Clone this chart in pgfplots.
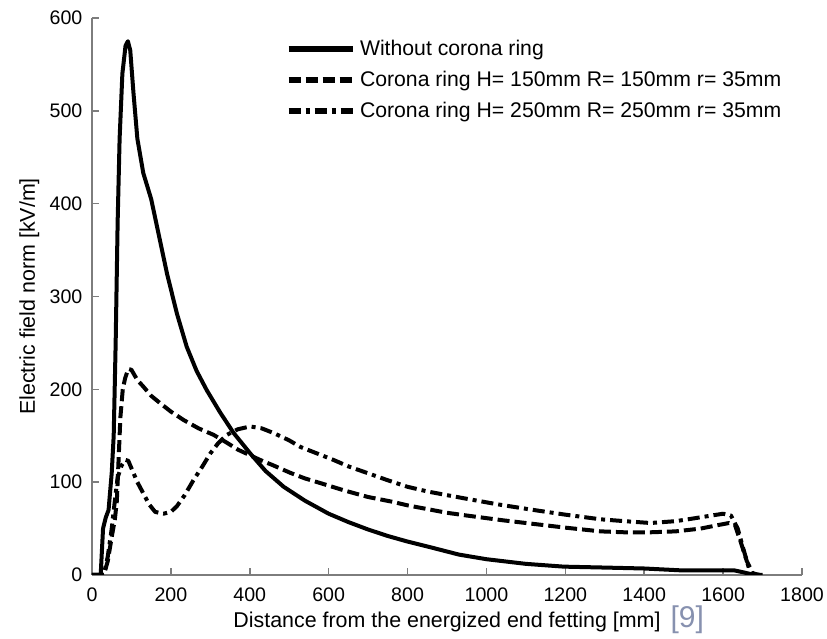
\documentclass[border=0pt]{standalone}
\usepackage{pgfplots}
\usepackage{pgfplotstable}
\pgfplotsset{compat=1.18}
\usepackage{fontspec}
\setmainfont{Liberation Sans}
\definecolor{axgray}{RGB}{125,125,125}
\definecolor{citeblue}{RGB}{135,145,175}

\pgfplotstableread{
x y
0 0
22 0
28 50
35 62
42 70
50 110
55 150
60 250
65 380
70 470
77 540
85 570
91 575
97 565
105 520
115 470
130 433
150 405
170 365
190 325
215 282
240 246
265 220
291 199
325 175
359 153
401 131
440 112
486 95
540 80
600 66
650 57
700 49
750 42
800 36
866 29
930 22
1000 17
1100 12
1196 9
1300 8
1400 7
1493 5
1560 5
1628 5
1650 3
1670 1
1700 0
}\solid

\pgfplotstableread{
x y
0 0
30 0
40 15
50 41
58 60
63 80
68 130
72 170
78 200
84 212
92 222
100 221
115 210
130 203
150 193
173 185
200 176
232 167
270 158
308 151
340 143
370 135
426 124
460 118
503 110
540 104
579 99
640 91
700 84
760 79
800 75
850 71
900 67
951 64
1040 59
1120 55
1200 51
1289 47
1350 46
1416 46
1480 47
1543 50
1590 54
1615 56
1630 54
1645 35
1660 15
1675 2
1690 0
}\ringA

\pgfplotstableread{
x y
0 0
30 0
40 20
50 50
58 80
65 105
75 118
85 124
92 123
100 115
115 100
130 88
145 76
160 68
181 66
200 68
215 74
235 86
257 102
280 117
300 131
320 142
342 151
370 157
401 160
430 158
460 153
500 145
528 138
570 131
612 124
650 117
697 110
750 102
800 95
850 90
900 86
951 82
1030 76
1120 70
1200 65
1289 60
1350 58
1416 56
1480 58
1526 61
1570 64
1600 66
1620 64
1637 50
1650 30
1665 8
1675 0
1690 0
}\ringB

\begin{document}
\begin{tikzpicture}
\begin{axis}[
  scale only axis,
  width=355pt, height=278.5pt,
  xmin=0, xmax=1800, ymin=0, ymax=600,
  axis lines=left,
  axis line style={-, draw=axgray, line width=0.8pt},
  tick style={draw=axgray, line width=0.8pt},
  tick align=inside,
  major tick length=3.5pt,
  xtick={0,200,...,1800},
  ytick={0,100,...,600},
  scaled ticks=false,
  /pgf/number format/1000 sep={},
  /pgf/number format/assume math mode=true,
  ticklabel style={font=\fontsize{9.8pt}{11pt}\selectfont},
  yticklabel style={xshift=-1.3pt},
  xticklabel style={yshift=-2.8pt},
  xlabel={Distance from the energized end fetting [mm]\makebox[0pt][l]{\hspace{5pt}\color{citeblue}\fontsize{15pt}{17pt}\selectfont[9]}},
  ylabel={Electric field norm [kV/m]},
  label style={font=\fontsize{10.7pt}{12pt}\selectfont},
  xlabel style={at={(axis description cs:0.5,-0.0934)}, anchor=base},
  ylabel style={at={(axis description cs:-0.0803,0.5)}, anchor=base},
  legend cell align=left,
  legend style={at={(axis description cs:0.272,0.972)}, anchor=north west,
    draw=none, fill=none, inner sep=0pt,
    font=\fontsize{10.6pt}{12pt}\selectfont,
    nodes={inner sep=2.25pt, text height=8.3pt, text depth=2.7pt}},
  legend image code/.code={\draw[#1, line width=3pt] (0pt,0pt) -- (32pt,0pt);},
  every axis plot/.append style={line width=2pt, black, line join=round},
]
\addplot[solid] table[x=x,y=y] {\solid};
\addlegendentry{Without corona ring}
\addplot[dash pattern=on 6pt off 2.5pt] table[x=x,y=y] {\ringA};
\addlegendentry{Corona ring H= 150mm R= 150mm r= 35mm}
\addplot[dash pattern=on 6pt off 2.5pt on 2pt off 2.5pt] table[x=x,y=y] {\ringB};
\addlegendentry{Corona ring H= 250mm R= 250mm r= 35mm}
\coordinate (sw) at (rel axis cs:0,0);
\coordinate (ne) at (rel axis cs:1,1);
\end{axis}
\pgfresetboundingbox
\path[use as bounding box] ([xshift=-46pt,yshift=-32pt]sw) rectangle ([xshift=12.5pt,yshift=9pt]ne);
\end{tikzpicture}
\end{document}
